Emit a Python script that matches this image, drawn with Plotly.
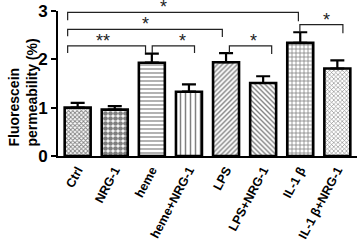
import plotly.graph_objects as go

categories = ["Ctrl", "NRG-1", "heme", "heme+NRG-1", "LPS", "LPS+NRG-1", "IL-1 β", "IL-1 β+NRG-1"]
means = [1.00, 0.96, 1.93, 1.33, 1.94, 1.51, 2.34, 1.81]
err_upper = [0.10, 0.07, 0.19, 0.15, 0.19, 0.14, 0.22, 0.17]
patterns = ["x", ".", "-", "|", "/", "\\", "+", "x"]
pattern_size = [3, 5, 4, 5, 3.5, 3.5, 4, 3]
pattern_solid = [0.5, 0.7, 0.3, 0.3, 0.4, 0.4, 0.35, 0.35]

# significance brackets
br_left = [0, 0, 0, 2, 4, 6]
br_right = [6, 4, 2, 3, 5, 7]
br_left_off = [-0.27, -0.27, -0.27, 0.01, 0.09, -0.01]
br_right_off = [-0.05, -0.10, -0.17, 0.15, 0.23, 0.15]
br_level = [2.97, 2.62, 2.28, 2.28, 2.28, 2.72]
br_left_end = [2.81, 2.48, 2.13, 2.13, 2.13, 2.56]
br_right_end = [2.79, 2.46, 2.13, 2.13, 2.11, 2.54]
br_label = ["*", "*", "**", "*", "*", "*"]
br_label_x = [2.31, 1.82, 0.69, 2.82, 4.73, 6.71]

x_idx = list(range(len(categories)))

fig = go.Figure()
fig.add_trace(go.Bar(
    x=x_idx, y=means, width=0.7,
    marker=dict(
        color="white",
        line=dict(color="black", width=2.6),
        pattern=dict(shape=patterns, size=pattern_size, solidity=pattern_solid,
                     fgcolor="black", bgcolor="white", fillmode="overlay"),
    ),
    error_y=dict(type="data", symmetric=False, array=err_upper,
                 arrayminus=[0] * len(means), color="black", thickness=2.2, width=7),
    showlegend=False,
    hoverinfo="skip",
))

shapes = []
annotations = []
for i in range(len(br_label)):
    xl = br_left[i] + br_left_off[i]
    xr = br_right[i] + br_right_off[i]
    lv = br_level[i]
    path = f"M {xl},{br_left_end[i]} L {xl},{lv} L {xr},{lv} L {xr},{br_right_end[i]}"
    shapes.append(dict(type="path", path=path, xref="x", yref="y",
                       line=dict(color="#222", width=1.2)))
    annotations.append(dict(x=br_label_x[i], y=lv, xref="x", yref="y", text=br_label[i],
                            showarrow=False, yanchor="bottom", yshift=-7,
                            font=dict(size=18, color="#222", family="Arial, Liberation Sans")))

annotations.append(dict(
    x=-0.117, y=0.438, xref="paper", yref="paper", textangle=-90,
    text="Fluorescein<br>permeability (%)", showarrow=False, align="left",
    xanchor="center", yanchor="middle",
    font=dict(size=14, color="black", family="Arial, Liberation Sans", weight="bold"),
))

fig.update_layout(
    width=358, height=243,
    margin=dict(l=58, r=1, t=11, b=87, autoexpand=False),
    plot_bgcolor="white", paper_bgcolor="white",
    bargap=0.3,
    shapes=shapes, annotations=annotations,
    xaxis=dict(range=[-0.53, 7.53], tickmode="array", tickvals=x_idx, ticktext=categories,
               tickangle=-62, showline=True, linecolor="black", linewidth=2, ticks="",
               showgrid=False, zeroline=False, automargin=False,
               tickfont=dict(size=12.5, color="black", family="Arial, Liberation Sans", weight="bold")),
    yaxis=dict(range=[0, 3], tickvals=[0, 1, 2, 3], showline=True, linecolor="black", linewidth=2,
               ticks="outside", ticklen=5, tickwidth=2, tickcolor="black",
               showgrid=False, zeroline=False, automargin=False,
               tickfont=dict(size=17, color="black", family="Arial, Liberation Sans", weight="bold")),
)

fig.write_html("out.html", config={"displayModeBar": False},
               post_script="document.body.style.margin='0';")
